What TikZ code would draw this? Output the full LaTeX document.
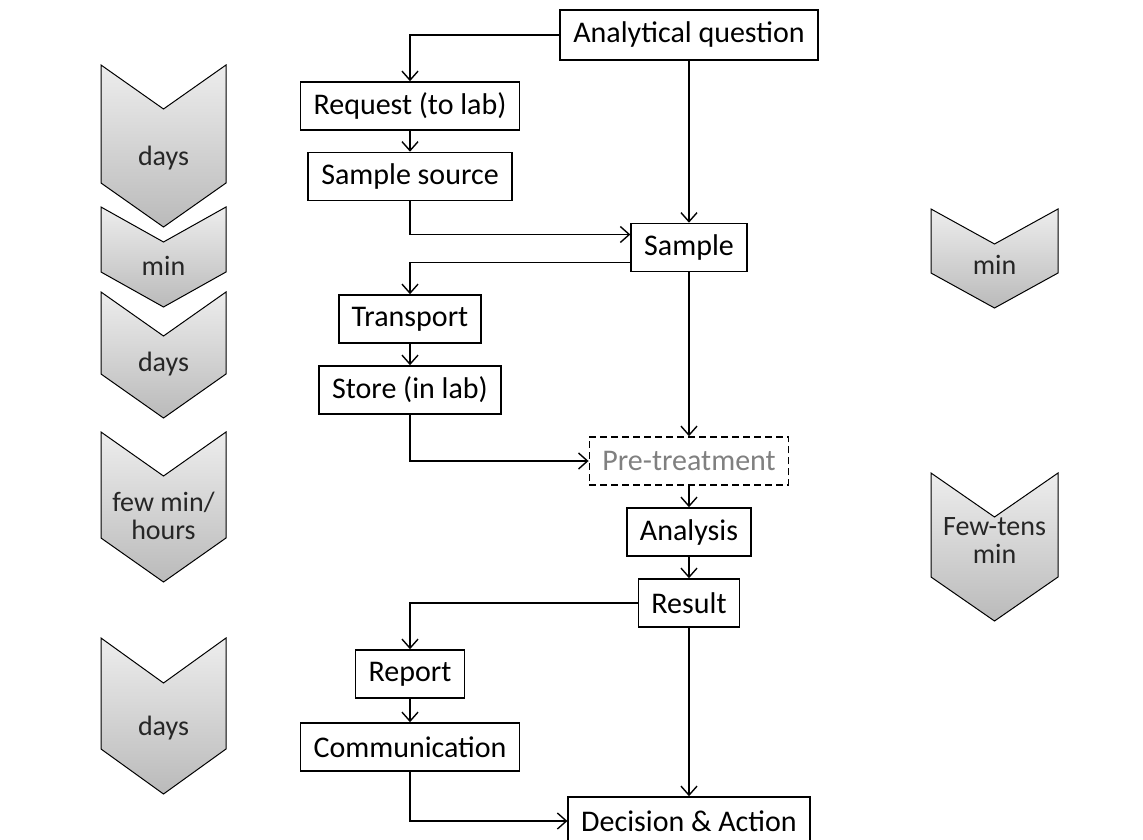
\documentclass[tikz,border=0pt]{standalone}
\usepackage{fontspec}
\setmainfont{Carlito}
\usetikzlibrary{arrows.meta, positioning}

\begin{document}
\begin{tikzpicture}[x=1pt, y=-1pt]
\tikzstyle{box}=[rectangle, draw=black, line width=1.6pt, font=\fontsize{30}{32}\selectfont,
        minimum height=48pt, inner xsep=13pt, text=black]
\tikzstyle{optbox}=[box, dash pattern=on 7pt off 4pt, text=black!50]
\tikzstyle{flow}=[-{Straight Barb[length=9pt, width=16pt, line width=1.4pt]}, line width=1.4pt]
\tikzstyle{chev}=[draw=black, line width=1pt, top color=black!7, bottom color=black!27]
\tikzstyle{span}=[font=\fontsize{28}{28}\selectfont, align=center, inner sep=0pt, text=black!85]

\useasboundingbox (0,0) rectangle (1143,840);

\def \la {101}
\def \lb {226}
\def \lc {163.5}
\def \ra {931}
\def \rb {1058}
\def \rc {994.5}

% time spans, left column
\draw[chev] (\la,65) -- (\lc,109) -- (\lb,65) -- (\lb,183) -- (\lc,227) -- (\la,183) -- cycle;
\draw[chev] (\la,207) -- (\lc,242) -- (\lb,207) -- (\lb,272) -- (\lc,307) -- (\la,272) -- cycle;
\draw[chev] (\la,292) -- (\lc,336) -- (\lb,292) -- (\lb,374) -- (\lc,418) -- (\la,374) -- cycle;
\draw[chev] (\la,432) -- (\lc,476) -- (\lb,432) -- (\lb,538) -- (\lc,582) -- (\la,538) -- cycle;
\draw[chev] (\la,638) -- (\lc,683) -- (\lb,638) -- (\lb,749) -- (\lc,794) -- (\la,749) -- cycle;

% time spans, right column
\draw[chev] (\ra,209) -- (\rc,244) -- (\rb,209) -- (\rb,273) -- (\rc,308) -- (\ra,273) -- cycle;
\draw[chev] (\ra,473) -- (\rc,517) -- (\rb,473) -- (\rb,577) -- (\rc,621) -- (\ra,577) -- cycle;

    \node (tdays1) [span] at (\lc,158) {days};
    \node (tmin1) [span] at (\lc,266) {min};
    \node (tdays2) [span] at (\lc,364) {days};
    \node (thours) [span] at (\lc,516) {few min/\\hours};
    \node (tdays3) [span] at (\lc,728) {days};
    \node (tmin2) [span] at (\rc,265) {min};
    \node (ttens) [span] at (\rc,541) {Few-tens\\min};

% process steps
    \node (question) [box, minimum height=50pt] at (689,35) {Analytical question};
    \node (request) [box] at (410,106) {Request (to lab)};
    \node (source) [box] at (410,176.5) {Sample source};
    \node (sample) [box] at (689,247.5) {Sample};
    \node (transport) [box] at (410,319) {Transport};
    \node (store) [box] at (410,390) {Store (in lab)};
    \node (pretreat) [optbox] at (689,461) {Pre-treatment};
    \node (analysis) [box] at (689,532) {Analysis};
    \node (result) [box] at (689,603) {Result};
    \node (report) [box] at (410,674) {Report};
    \node (comm) [box] at (410,747) {Communication};
    \node (decision) [box] at (689,821) {Decision \& Action};

\path[flow, to path={-| (\tikztotarget)}] (question) edge (request);
\path[flow] (question) edge (sample);
\path[flow] (request) edge (source);
\draw[flow] (source.south) |- ([yshift=13pt]sample.west);
\draw[flow] ([yshift=-15pt]sample.west) -| (transport.north);
\path[flow] (sample) edge (pretreat);
\path[flow] (transport) edge (store);
\path[flow, to path={|- (\tikztotarget)}] (store) edge (pretreat);
\path[flow] (pretreat) edge (analysis);
\path[flow] (analysis) edge (result);
\path[flow, to path={-| (\tikztotarget)}] (result) edge (report);
\path[flow] (result) edge (decision);
\path[flow] (report) edge (comm);
\path[flow, to path={|- (\tikztotarget)}] (comm) edge (decision);

\end{tikzpicture}
\end{document}
